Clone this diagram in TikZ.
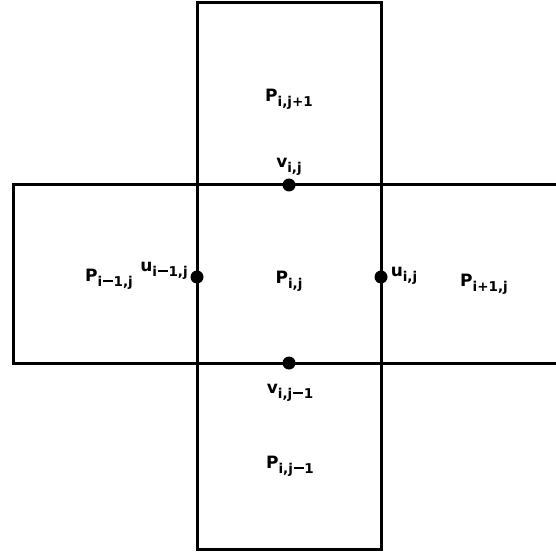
\documentclass[tikz,border=0pt]{standalone}
\usepackage{fontspec}
\setmainfont{DejaVu Sans}
\newcommand\mylbl[2]{#1\raisebox{-0.5ex}{\fontsize{13.5}{13.5}\selectfont #2}}
\newcommand\mydash{\kern0.05em\rule[0.32em]{0.75em}{0.14em}\kern0.05em}
\begin{document}
\begin{tikzpicture}[x=1pt,y=-1pt,
  edge/.style={line width=3pt},
  dot/.style={circle,fill=black,inner sep=0pt,minimum size=13pt},
  lab/.style={inner sep=0pt,font=\fontsize{17}{17}\selectfont\bfseries}]
\useasboundingbox (0,0) rectangle (556,553);
% vertical rectangle corners
\coordinate (vtl) at (197,3);
\coordinate (vtr) at (381,3);
\coordinate (vbl) at (197,549);
\coordinate (vbr) at (381,549);
% horizontal strip
\coordinate (htl) at (13,185);
\coordinate (hbl) at (13,363);
\coordinate (htr) at (556,185);
\coordinate (hbr) at (556,363);
\draw[edge] (vtl) -- (vtr) -- (vbr) -- (vbl) -- cycle;
\draw[edge] (htr) -- (htl) -- (hbl) -- (hbr);
% dots
\node[dot] (vij) at (289,185) {};
\node[dot] (vijm) at (289,363) {};
\node[dot] (uimj) at (197,277) {};
\node[dot] (uij) at (381,277) {};
% labels
\node[lab] (Pijp) at (289,99) {\mylbl{P}{i,j+1}};
\node[lab] (lvij) at (289,167) {\mylbl{v}{i,j}};
\node[lab] (Pimj) at (109,279) {\mylbl{P}{i\mydash1,j}};
\node[lab] (luimj) at (164,271) {\mylbl{u}{i\mydash1,j}};
\node[lab] (Pij) at (289,281) {\mylbl{P}{i,j}};
\node[lab] (luij) at (404,276) {\mylbl{u}{i,j}};
\node[lab] (Pipj) at (484,284) {\mylbl{P}{i+1,j}};
\node[lab] (lvijm) at (290,393) {\mylbl{v}{i,j\mydash1}};
\node[lab] (Pijm) at (290,466) {\mylbl{P}{i,j\mydash1}};
\end{tikzpicture}
\end{document}
